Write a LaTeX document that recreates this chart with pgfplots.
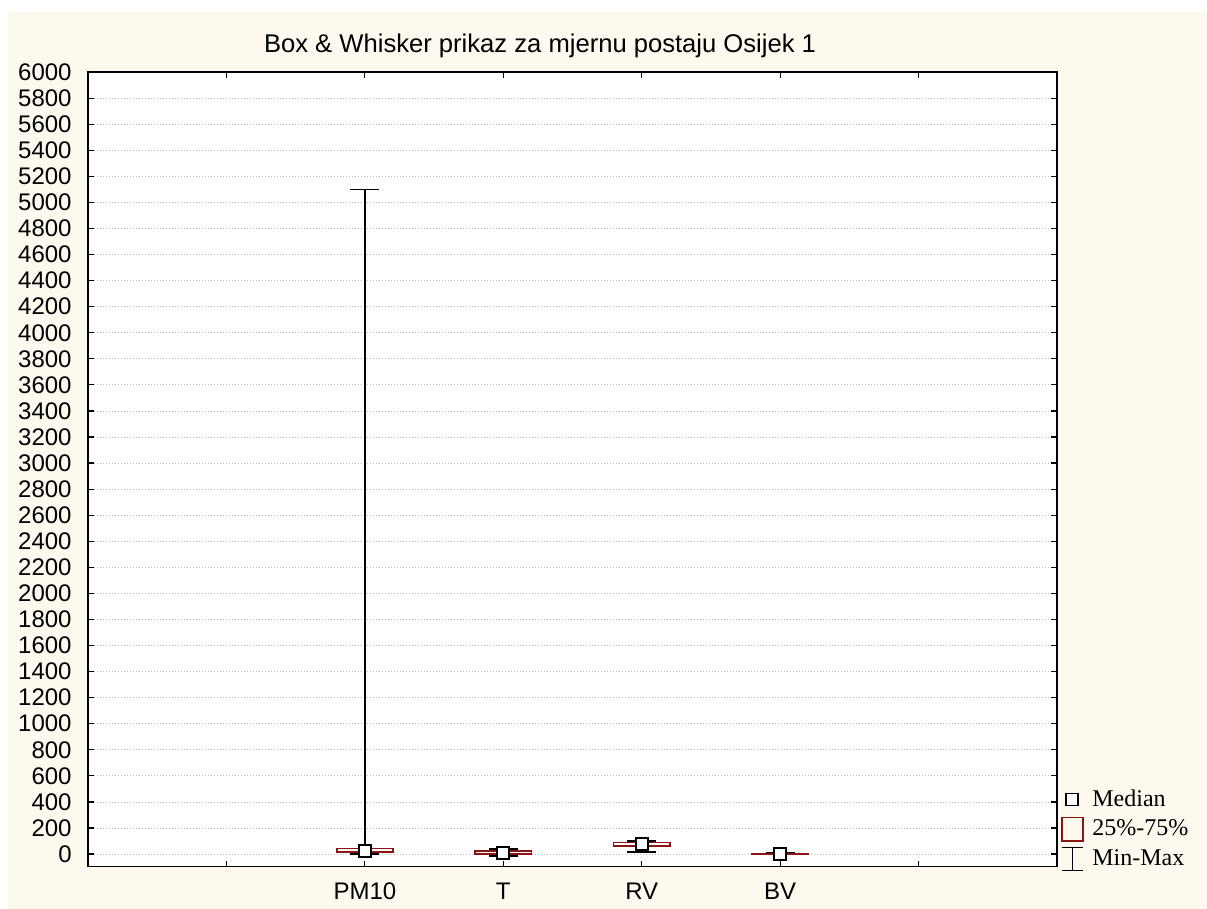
\documentclass[border=0pt]{standalone}
\usepackage{fontspec}
\setmainfont{Liberation Sans}
\newfontfamily\serif{Liberation Serif}
\usepackage{pgfplots}
\pgfplotsset{compat=1.18}

\definecolor{cream}{RGB}{253,249,238}
\definecolor{boxred}{RGB}{140,20,20}

\begin{document}
\begin{tikzpicture}
% page background (white strip, cream panel)
\path[use as bounding box, fill=white] (-44pt,-21.15pt) rectangle (559.5pt,433.35pt);
\fill[cream] (-40pt,-21.15pt) rectangle (559.5pt,427.35pt);

\begin{axis}[
    at={(0,0)}, anchor=south west,
    scale only axis, width=484.5pt, height=397.3pt,
    axis background/.style={fill=white},
    xmin=0, xmax=7, ymin=-97, ymax=6000,
    xtick={1,...,6}, xticklabels={,PM10,T,RV,BV,},
    ytick={0,200,...,6000},
    tick align=inside, major tick length=3pt,
    axis line style={line width=0.8pt},
    every tick/.style={black, line width=0.6pt},
    ymajorgrids=true,
    major grid style={gray!55, line width=0.4pt, dash pattern=on 0.6pt off 0.9pt},
    tick label style={font=\fontsize{12}{14}\selectfont},
    /pgf/number format/assume math mode=true,
    /pgf/number format/1000 sep={},
    yticklabel style={inner sep=0pt, xshift=-8pt},
    xticklabel style={inner sep=0pt, yshift=-8pt},
    title={Box \& Whisker prikaz za mjernu postaju Osijek 1},
    title style={at={(0.4665,1)}, anchor=base, yshift=4pt, inner sep=0pt,
                 font=\fontsize{12.8}{15}\selectfont},
    legend style={draw=none, fill=none, at={(1.004,0.1025)}, anchor=north west,
                  font=\serif\fontsize{12}{14}\selectfont, row sep=1.3pt,
                  inner sep=0pt},
    legend cell align=left,
  ]
  \addlegendimage{legend image code/.code={
      \draw[black, line width=0.8pt, fill=white] (2pt,-3pt) rectangle (8pt,3pt);
      \path (13pt,0pt);}}
  \addlegendentry{Median}
  \addlegendimage{legend image code/.code={
      \draw[boxred, line width=0.7pt] (0pt,-5.8pt) rectangle (10.5pt,5.8pt);
      \path (13pt,0pt);}}
  \addlegendentry{25\%-75\%}
  \addlegendimage{legend image code/.code={
      \draw[black, line width=0.7pt] (0pt,-5.75pt) -- (10.5pt,-5.75pt)
        (5.25pt,-5.75pt) -- (5.25pt,5.75pt) (0pt,5.75pt) -- (10.5pt,5.75pt);
      \path (13pt,0pt);}}
  \addlegendentry{Min-Max}

  % min-max whiskers: centre value, distance up to max, distance down to min
  \addplot[forget plot, black, line width=0.8pt, mark=none, draw=none,
    error bars/.cd, y dir=both, y explicit,
    error bar style={black, line width=0.8pt},
    error mark options={rotate=90, mark size=7.25pt, line width=0.8pt}]
    coordinates {
      (2,25) += (0,5075) -= (0,23)
      (3,10) += (0,28)   -= (0,23)
      (4,76) += (0,24)   -= (0,62)
      (5,1)  += (0,5)    -= (0,4)
    };

  % 25%-75% boxes
  \addplot[forget plot, boxred, fill=white, line width=0.8pt, mark=none]
    coordinates {(1.7975,15) (2.2025,15) (2.2025,43) (1.7975,43)} -- cycle;
  \addplot[forget plot, boxred, fill=white, line width=0.8pt, mark=none]
    coordinates {(2.7975,0) (3.2025,0) (3.2025,22) (2.7975,22)} -- cycle;
  \addplot[forget plot, boxred, fill=white, line width=0.8pt, mark=none]
    coordinates {(3.7975,60) (4.2025,60) (4.2025,90) (3.7975,90)} -- cycle;
  \addplot[forget plot, boxred, fill=white, line width=0.8pt, mark=none]
    coordinates {(4.7975,0) (5.2025,0) (5.2025,3) (4.7975,3)} -- cycle;

  % medians
  \addplot[forget plot, only marks, mark=square*, mark size=3pt,
    mark options={draw=black, fill=white, line width=0.9pt}]
    coordinates {(2,25) (3,10) (4,76) (5,1)};
\end{axis}
\end{tikzpicture}
\end{document}
